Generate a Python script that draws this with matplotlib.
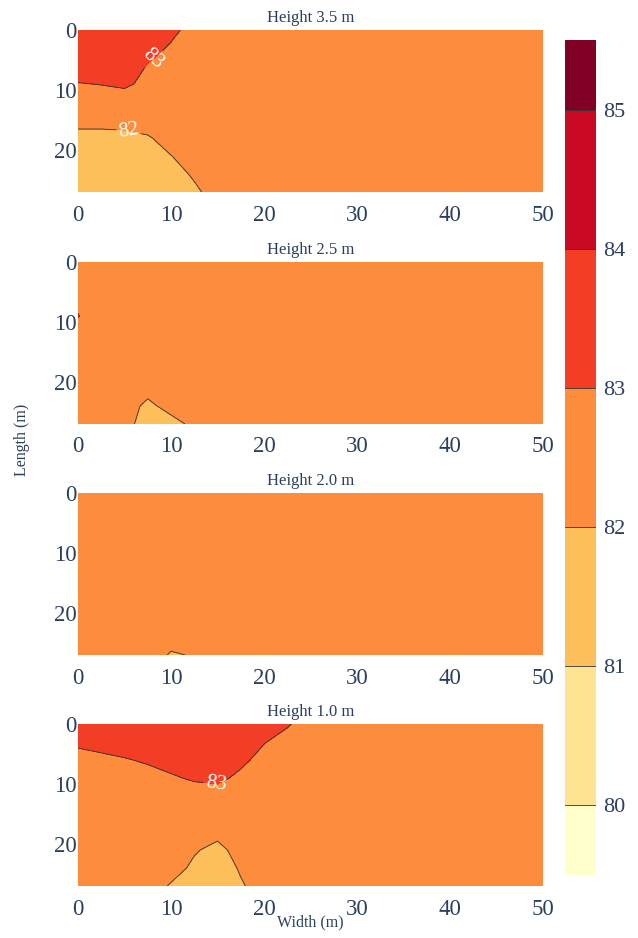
import numpy as np
import matplotlib
matplotlib.use('Agg')
import matplotlib.pyplot as plt

plt.rcParams['font.family'] = ['Liberation Serif', 'DejaVu Serif']

# Сетка измерений
x_pts = [0, 2.5, 5, 7.5, 10, 12.5, 15, 17.5, 20, 22.5, 25, 30, 35, 40, 45, 50]
y_pts = [0, 3, 6, 9, 12, 15, 18, 21, 24, 27]

# Значения по высотам (строки = y_pts, столбцы = x_pts)
z_35 = [
    [83.6, 83.55, 83.45, 83.3, 83.1, 82.85, 82.7, 82.6, 82.55, 82.5, 82.5, 82.5, 82.5, 82.5, 82.5, 82.5],
    [83.5, 83.45, 83.35, 83.15, 82.95, 82.8, 82.7, 82.6, 82.55, 82.5, 82.5, 82.5, 82.5, 82.5, 82.5, 82.5],
    [83.35, 83.3, 83.2, 82.98, 82.8, 82.7, 82.65, 82.6, 82.55, 82.5, 82.5, 82.5, 82.5, 82.5, 82.5, 82.5],
    [82.97, 83.02, 83.1, 82.85, 82.7, 82.65, 82.6, 82.55, 82.5, 82.5, 82.5, 82.5, 82.5, 82.5, 82.5, 82.5],
    [82.6, 82.65, 82.7, 82.6, 82.55, 82.55, 82.55, 82.5, 82.5, 82.5, 82.5, 82.5, 82.5, 82.5, 82.5, 82.5],
    [82.15, 82.15, 82.17, 82.25, 82.4, 82.5, 82.5, 82.5, 82.5, 82.5, 82.5, 82.5, 82.5, 82.5, 82.5, 82.5],
    [81.85, 81.85, 81.87, 81.95, 82.2, 82.35, 82.4, 82.45, 82.5, 82.5, 82.5, 82.5, 82.5, 82.5, 82.5, 82.5],
    [81.7, 81.7, 81.75, 81.85, 81.99, 82.2, 82.35, 82.4, 82.45, 82.5, 82.5, 82.5, 82.5, 82.5, 82.5, 82.5],
    [81.6, 81.6, 81.65, 81.75, 81.85, 82.05, 82.25, 82.35, 82.45, 82.5, 82.5, 82.5, 82.5, 82.5, 82.5, 82.5],
    [81.55, 81.55, 81.6, 81.7, 81.8, 81.93, 82.15, 82.3, 82.4, 82.5, 82.5, 82.5, 82.5, 82.5, 82.5, 82.5],
]

z_25 = [
    [82.6, 82.6, 82.55, 82.55, 82.5, 82.5, 82.5, 82.5, 82.5, 82.5, 82.5, 82.5, 82.5, 82.5, 82.5, 82.5],
    [82.7, 82.65, 82.6, 82.55, 82.5, 82.5, 82.5, 82.5, 82.5, 82.5, 82.5, 82.5, 82.5, 82.5, 82.5, 82.5],
    [82.85, 82.7, 82.6, 82.55, 82.5, 82.5, 82.5, 82.5, 82.5, 82.5, 82.5, 82.5, 82.5, 82.5, 82.5, 82.5],
    [83.02, 82.75, 82.6, 82.55, 82.5, 82.5, 82.5, 82.5, 82.5, 82.5, 82.5, 82.5, 82.5, 82.5, 82.5, 82.5],
    [82.8, 82.65, 82.6, 82.55, 82.5, 82.5, 82.5, 82.5, 82.5, 82.5, 82.5, 82.5, 82.5, 82.5, 82.5, 82.5],
    [82.6, 82.55, 82.5, 82.45, 82.45, 82.5, 82.5, 82.5, 82.5, 82.5, 82.5, 82.5, 82.5, 82.5, 82.5, 82.5],
    [82.5, 82.45, 82.4, 82.35, 82.4, 82.45, 82.5, 82.5, 82.5, 82.5, 82.5, 82.5, 82.5, 82.5, 82.5, 82.5],
    [82.45, 82.4, 82.3, 82.15, 82.3, 82.4, 82.45, 82.5, 82.5, 82.5, 82.5, 82.5, 82.5, 82.5, 82.5, 82.5],
    [82.4, 82.35, 82.2, 81.9, 82.15, 82.3, 82.4, 82.45, 82.5, 82.5, 82.5, 82.5, 82.5, 82.5, 82.5, 82.5],
    [82.4, 82.3, 82.15, 81.8, 81.85, 82.1, 82.3, 82.4, 82.5, 82.5, 82.5, 82.5, 82.5, 82.5, 82.5, 82.5],
]

z_20 = [
    [82.5, 82.5, 82.5, 82.5, 82.5, 82.5, 82.5, 82.5, 82.5, 82.5, 82.5, 82.5, 82.5, 82.5, 82.5, 82.5],
    [82.5, 82.5, 82.5, 82.5, 82.5, 82.5, 82.5, 82.5, 82.5, 82.5, 82.5, 82.5, 82.5, 82.5, 82.5, 82.5],
    [82.5, 82.5, 82.5, 82.5, 82.5, 82.5, 82.5, 82.5, 82.5, 82.5, 82.5, 82.5, 82.5, 82.5, 82.5, 82.5],
    [82.5, 82.5, 82.5, 82.5, 82.5, 82.5, 82.5, 82.5, 82.5, 82.5, 82.5, 82.5, 82.5, 82.5, 82.5, 82.5],
    [82.5, 82.5, 82.5, 82.5, 82.5, 82.5, 82.5, 82.5, 82.5, 82.5, 82.5, 82.5, 82.5, 82.5, 82.5, 82.5],
    [82.5, 82.5, 82.5, 82.5, 82.5, 82.5, 82.5, 82.5, 82.5, 82.5, 82.5, 82.5, 82.5, 82.5, 82.5, 82.5],
    [82.5, 82.5, 82.5, 82.5, 82.5, 82.5, 82.5, 82.5, 82.5, 82.5, 82.5, 82.5, 82.5, 82.5, 82.5, 82.5],
    [82.5, 82.5, 82.5, 82.5, 82.5, 82.5, 82.5, 82.5, 82.5, 82.5, 82.5, 82.5, 82.5, 82.5, 82.5, 82.5],
    [82.5, 82.5, 82.45, 82.4, 82.3, 82.4, 82.45, 82.5, 82.5, 82.5, 82.5, 82.5, 82.5, 82.5, 82.5, 82.5],
    [82.5, 82.5, 82.45, 82.4, 81.92, 82.05, 82.3, 82.45, 82.5, 82.5, 82.5, 82.5, 82.5, 82.5, 82.5, 82.5],
]

z_10 = [
    [83.4, 83.4, 83.4, 83.4, 83.4, 83.4, 83.4, 83.35, 83.2, 83.04, 82.8, 82.6, 82.5, 82.5, 82.5, 82.5],
    [83.1, 83.15, 83.2, 83.25, 83.3, 83.35, 83.35, 83.2, 83.02, 82.85, 82.7, 82.55, 82.5, 82.5, 82.5, 82.5],
    [82.8, 82.9, 82.97, 83.05, 83.15, 83.25, 83.3, 83.1, 82.85, 82.7, 82.6, 82.5, 82.5, 82.5, 82.5, 82.5],
    [82.6, 82.65, 82.7, 82.85, 82.95, 83.05, 83.1, 82.9, 82.75, 82.6, 82.55, 82.5, 82.5, 82.5, 82.5, 82.5],
    [82.5, 82.5, 82.55, 82.65, 82.7, 82.8, 82.8, 82.7, 82.6, 82.55, 82.5, 82.5, 82.5, 82.5, 82.5, 82.5],
    [82.45, 82.45, 82.45, 82.5, 82.5, 82.5, 82.5, 82.5, 82.5, 82.5, 82.5, 82.5, 82.5, 82.5, 82.5, 82.5],
    [82.45, 82.4, 82.4, 82.35, 82.3, 82.25, 82.15, 82.3, 82.4, 82.45, 82.5, 82.5, 82.5, 82.5, 82.5, 82.5],
    [82.4, 82.4, 82.35, 82.3, 82.2, 82.05, 81.85, 82.2, 82.35, 82.45, 82.5, 82.5, 82.5, 82.5, 82.5, 82.5],
    [82.4, 82.35, 82.3, 82.25, 82.2, 81.9, 81.75, 82.05, 82.3, 82.4, 82.5, 82.5, 82.5, 82.5, 82.5, 82.5],
    [82.4, 82.35, 82.3, 82.25, 81.95, 81.8, 81.7, 81.95, 82.2, 82.35, 82.45, 82.5, 82.5, 82.5, 82.5, 82.5],
]

titles = ['Height 3.5 m', 'Height 2.5 m', 'Height 2.0 m', 'Height 1.0 m']
grids = [z_35, z_25, z_20, z_10]
# Подписи изолиний: точки рядом с линией
label_pos = [[(8.2, 5.0), (5.5, 16.6)], [], [], [(14.8, 10.3)]]

levels = [79.5, 80, 81, 82, 83, 84, 85, 85.5]
colors = ['#ffffcc', '#fee492', '#fdbf5a', '#fd8d3c', '#f43d25', '#ca0923', '#800026']
text_color = '#2a3f5f'

fig = plt.figure(figsize=(6.38, 9.38), dpi=100)

bottoms = [0.7953, 0.5480, 0.3017, 0.0554]
X, Y = np.meshgrid(x_pts, y_pts)

for i in range(4):
    ax = fig.add_axes([0.1223, bottoms[i], 0.7288, 0.1727])
    Z = np.array(grids[i])
    cf = ax.contourf(X, Y, Z, levels=levels, colors=colors)
    cl = ax.contour(X, Y, Z, levels=levels[1:-1], colors='#333333', linewidths=0.6)
    if label_pos[i]:
        ax.clabel(cl, manual=label_pos[i], inline=True, fmt='%d',
                  fontsize=15, colors='white', inline_spacing=2)
    ax.set_xlim(0, 50)
    ax.set_ylim(27, 0)
    ax.set_xticks([0, 10, 20, 30, 40, 50])
    ax.set_yticks([0, 10, 20])
    ax.tick_params(length=0, labelsize=16.5, colors=text_color)
    ax.tick_params(axis='x', pad=9)
    ax.tick_params(axis='y', pad=1)
    for s in ax.spines.values():
        s.set_visible(False)
    ax.set_title(titles[i], fontsize=12, color=text_color, pad=6)

# Цветовая шкала
cax = fig.add_axes([0.8856, 0.0672, 0.0486, 0.8902])
cb = fig.colorbar(cf, cax=cax, ticks=[80, 81, 82, 83, 84, 85], spacing='proportional')
cb.outline.set_visible(False)
cax.set_ylim(79.5, 85.5)
cax.tick_params(length=0, labelsize=16, colors=text_color, pad=5)
for v in [80, 81, 82, 83, 84, 85]:
    cax.axhline(v, color='#333333', lw=0.6)

fig.text(22 / 638, 1 - 440 / 938, 'Length (m)', rotation=90, ha='center', va='center',
         fontsize=11.5, color=text_color)
fig.text(310 / 638, 1 - 922 / 938, 'Width (m)', ha='center', va='center',
         fontsize=11.5, color=text_color)

fig.savefig('out.png', dpi=100)
plt.close()
